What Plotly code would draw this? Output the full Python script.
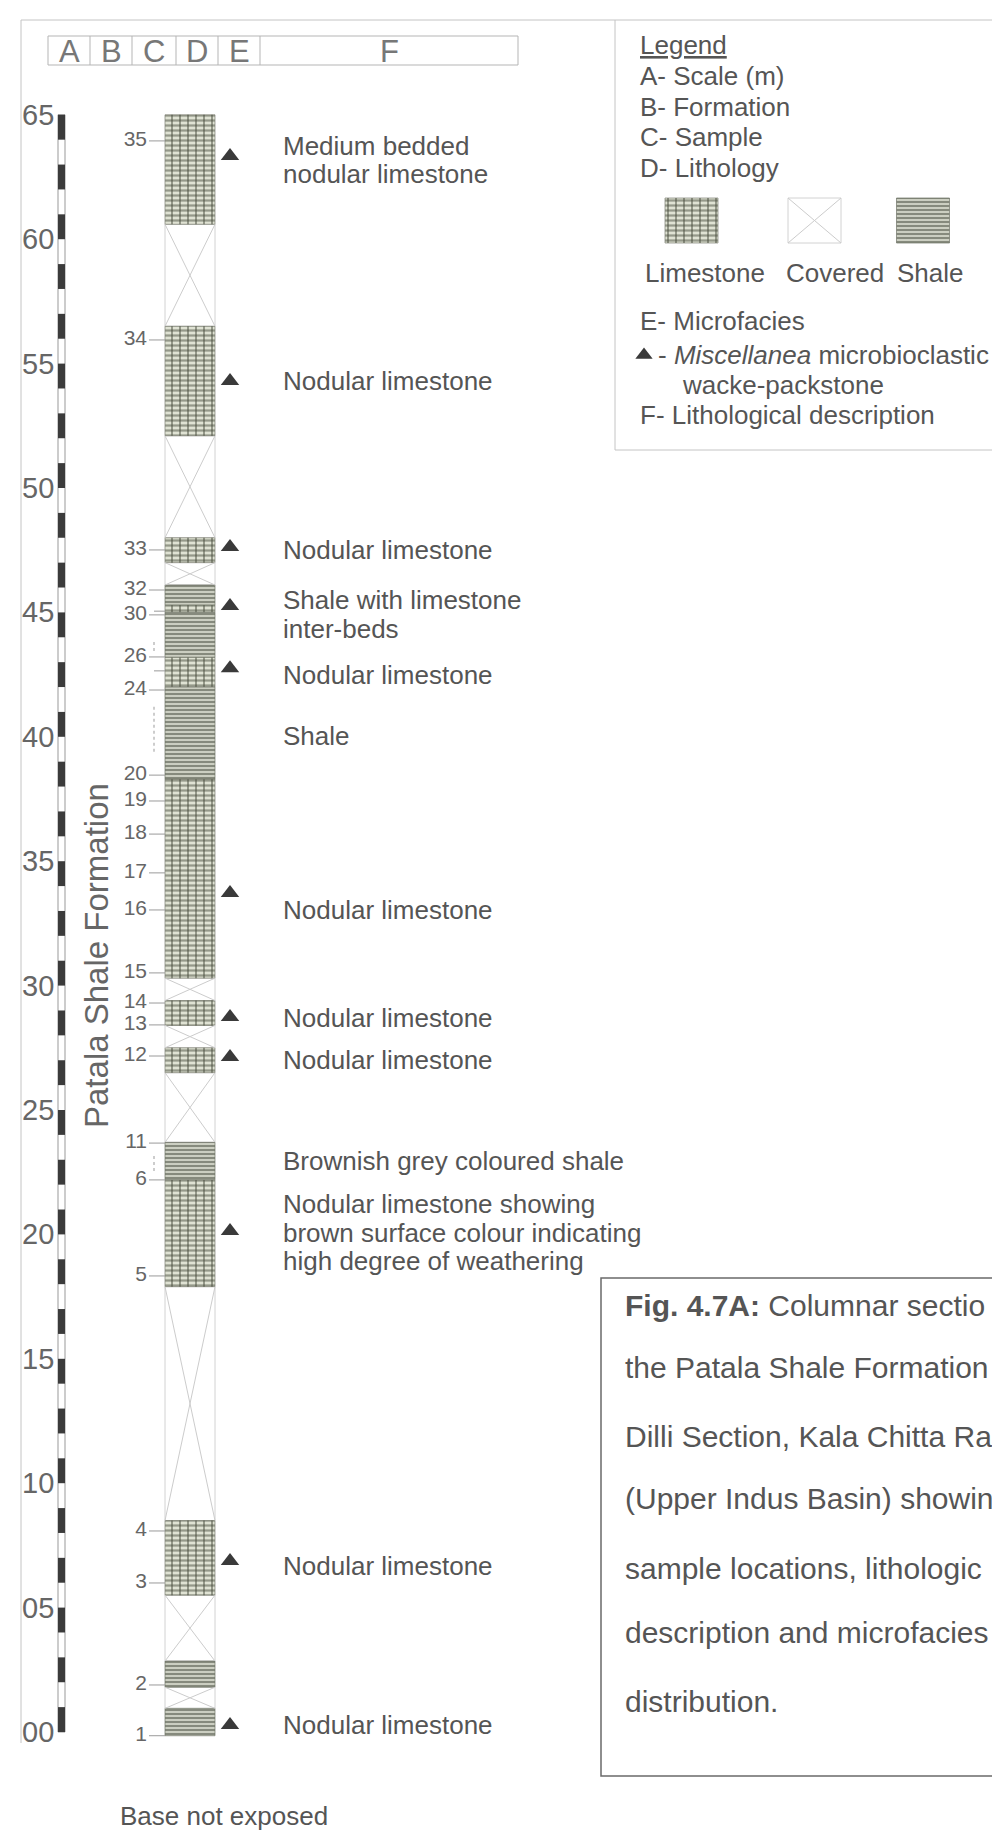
import plotly.graph_objects as go

# ---------------- data ----------------
scale_labels = ["65", "60", "55", "50", "45", "40", "35", "30", "25", "20", "15", "10", "05", "00"]
scale_values = [65, 60, 55, 50, 45, 40, 35, 30, 25, 20, 15, 10, 5, 0]

unit_top = [65.0, 60.6, 56.5, 52.1, 48.0, 47.0, 46.1, 45.3, 45.0, 43.2, 42.0, 38.3, 30.3,
            29.4, 28.4, 27.5, 26.5, 23.7, 22.2, 17.9, 8.5, 5.5, 2.85, 1.8, 0.95]
unit_bottom = [60.6, 56.5, 52.1, 48.0, 47.0, 46.1, 45.3, 45.0, 43.2, 42.0, 38.3, 30.3, 29.4,
               28.4, 27.5, 26.5, 23.7, 22.2, 17.9, 8.5, 5.5, 2.85, 1.8, 0.95, -0.15]
unit_lith = ["Limestone", "Covered", "Limestone", "Covered", "Limestone", "Covered", "Shale",
             "Limestone", "Shale", "Limestone", "Shale", "Limestone", "Covered", "Limestone",
             "Covered", "Limestone", "Covered", "Shale", "Limestone", "Covered", "Limestone",
             "Covered", "Shale", "Covered", "Shale"]

sample_labels = ["35", "34", "33", "32", "30", "26", "24", "20", "19", "18", "17", "16", "15",
                 "14", "13", "12", "11", "6", "5", "4", "3", "2", "1"]
sample_depths = [63.95, 55.95, 47.51, 45.90, 44.90, 43.21, 41.88, 38.46, 37.42, 36.09, 34.53,
                 33.04, 30.51, 29.30, 28.42, 27.17, 23.67, 22.19, 18.33, 8.08, 5.99, 1.89, -0.15]
extra_sample_ticks = [45.05, 42.65]
sample_gap_bottom = [43.45, 39.4, 22.55]
sample_gap_top = [43.9, 41.3, 23.2]

microfacies_depths = [63.34, 54.30, 47.63, 45.26, 42.76, 33.72, 28.74, 27.13, 20.14, 6.87, 0.28]

desc_texts = [
    ["Medium bedded", "nodular limestone"],
    ["Nodular limestone"],
    ["Nodular limestone"],
    ["Shale with limestone", "inter-beds"],
    ["Nodular limestone"],
    ["Shale"],
    ["Nodular limestone"],
    ["Nodular limestone"],
    ["Nodular limestone"],
    ["Brownish grey coloured shale"],
    ["Nodular limestone showing", "brown surface colour indicating", "high degree of weathering"],
    ["Nodular limestone"],
    ["Nodular limestone"],
]
desc_depths = [63.18, 54.30, 47.51, 44.92, 42.48, 40.03, 33.04, 28.70, 27.01, 22.95, 20.06, 6.67, 0.28]

header_labels = ["A", "B", "C", "D", "E", "F"]
formation_name = "Patala Shale Formation"
base_note = "Base not exposed"

legend_lines = ["A- Scale (m)", "B- Formation", "C- Sample", "D- Lithology"]
legend_lith = ["Limestone", "Covered", "Shale"]
legend_lines2 = ["E- Microfacies"]
legend_micro = ["- <i>Miscellanea</i> microbioclastic", "wacke-packstone"]
legend_lines3 = ["F- Lithological description"]

# caption as visible in the (cropped) reference
caption_lines = ["<b>Fig. 4.7A:</b> Columnar sectio", "the Patala Shale Formation",
                 "Dilli Section, Kala Chitta Ra", "(Upper Indus Basin) showin",
                 "sample locations, lithologic", "description and microfacies",
                 "distribution."]

# ---------------- layout constants ----------------
W, H = 1000, 1833
PX_PER_M = 24.88
Y_MAX = 1724 / PX_PER_M
Y_MIN = Y_MAX - H / PX_PER_M
FONT = "Liberation Sans, Arial, sans-serif"
TXT = "#555555"
D_X0, D_X1 = 157, 207
D_XC, D_W = (D_X0 + D_X1) / 2, D_X1 - D_X0
LIME_FG, LIME_BG = "#4a4e40", "#dfe2d3"
SHALE_FG, SHALE_BG = "#3a3d32", "#d3d6c8"


def m_off(px):
    return px / PX_PER_M


fig = go.Figure()

# ---------- scale bar ----------
fig.add_trace(go.Bar(x=[53.5], base=[0], y=[65], width=7, marker=dict(color="white", line=dict(color="#999", width=1)),
                     hoverinfo="skip", showlegend=False))
blk_base = [v for v in range(0, 65, 2)]
fig.add_trace(go.Bar(x=[53.5] * len(blk_base), base=blk_base, y=[1] * len(blk_base), width=7,
                     marker=dict(color="#3b3b3b", line=dict(width=0)), hoverinfo="skip", showlegend=False))


# ---------- lithology column ----------
def lith_units(name):
    b = [bb for bb, l in zip(unit_bottom, unit_lith) if l == name]
    t = [tt for tt, l in zip(unit_top, unit_lith) if l == name]
    return b, [tt - bb for bb, tt in zip(b, t)]


def limestone_bars(xs, bases, heights, width, yaxis="y"):
    fig.add_trace(go.Bar(x=xs, base=bases, y=heights, width=width, yaxis=yaxis,
                         marker=dict(color=LIME_BG, line=dict(color="#7d8072", width=0.7),
                                     pattern=dict(shape="-", fgcolor=LIME_FG, bgcolor=LIME_BG, size=5, solidity=0.45)),
                         hoverinfo="skip", showlegend=False))
    fig.add_trace(go.Bar(x=xs, base=bases, y=heights, width=width, yaxis=yaxis,
                         marker=dict(color="rgba(0,0,0,0)", line=dict(width=0),
                                     pattern=dict(shape="|", fgcolor=LIME_FG, bgcolor="rgba(0,0,0,0)",
                                                  size=8, solidity=0.25, fillmode="overlay")),
                         hoverinfo="skip", showlegend=False))


def shale_bars(xs, bases, heights, width, yaxis="y"):
    fig.add_trace(go.Bar(x=xs, base=bases, y=heights, width=width, yaxis=yaxis,
                         marker=dict(color=SHALE_BG, line=dict(color="#6f7266", width=0.7),
                                     pattern=dict(shape="-", fgcolor=SHALE_FG, bgcolor=SHALE_BG, size=4, solidity=0.55)),
                         hoverinfo="skip", showlegend=False))


cb, ch = lith_units("Covered")
fig.add_trace(go.Bar(x=[D_XC] * len(cb), base=cb, y=ch, width=D_W,
                     marker=dict(color="white", line=dict(color="#d2d2d2", width=1)),
                     hoverinfo="skip", showlegend=False))
cx, cy = [], []
for b, t, l in zip(unit_bottom, unit_top, unit_lith):
    if l == "Covered":
        cx += [D_X0, D_X1, None, D_X0, D_X1, None]
        cy += [b, t, None, t, b, None]
fig.add_trace(go.Scatter(x=cx, y=cy, mode="lines", line=dict(color="#cccccc", width=1),
                         hoverinfo="skip", showlegend=False))

lb, lh = lith_units("Limestone")
limestone_bars([D_XC] * len(lb), lb, lh, D_W)
sb, sh = lith_units("Shale")
shale_bars([D_XC] * len(sb), sb, sh, D_W)

# ---------- sample ticks ----------
tx, ty = [], []
for d in sample_depths:
    tx += [141, D_X0, None]
    ty += [d, d, None]
for d in extra_sample_ticks:
    tx += [146, D_X0, None]
    ty += [d, d, None]
fig.add_trace(go.Scatter(x=tx, y=ty, mode="lines", line=dict(color="#9a9a9a", width=1),
                         hoverinfo="skip", showlegend=False))
gx, gy = [], []
for b, t in zip(sample_gap_bottom, sample_gap_top):
    gx += [146, 146, None]
    gy += [b, t, None]
fig.add_trace(go.Scatter(x=gx, y=gy, mode="lines", line=dict(color="#bdbdbd", width=1.5, dash="dot"),
                         hoverinfo="skip", showlegend=False))
fig.add_trace(go.Scatter(x=[139] * len(sample_depths), y=sample_depths, mode="text", text=sample_labels,
                         textposition="middle left", textfont=dict(family=FONT, size=21, color="#666"),
                         hoverinfo="skip", showlegend=False))

# ---------- microfacies ----------
fig.add_trace(go.Scatter(x=[222] * len(microfacies_depths), y=microfacies_depths, mode="markers",
                         marker=dict(symbol="triangle-up", size=16, color="#3a3a3a"),
                         hoverinfo="skip", showlegend=False))

# ---------- descriptions ----------
LINE_M = m_off(28.5)
for lines, d in zip(desc_texts, desc_depths):
    n = len(lines)
    for i, ln in enumerate(lines):
        fig.add_annotation(x=273, y=d + (n - 1) / 2 * LINE_M - i * LINE_M, text=ln, showarrow=False,
                           xanchor="left", yanchor="middle", font=dict(family=FONT, size=26, color=TXT))
fig.add_annotation(x=110, y=-3.36, text=base_note, showarrow=False, xanchor="left", yanchor="middle",
                   font=dict(family=FONT, size=26, color=TXT))

# ---------- scale labels ----------
for lab, v in zip(scale_labels, scale_values):
    fig.add_annotation(x=48, y=v, text=lab, showarrow=False, xanchor="right", yanchor="middle",
                       font=dict(family=FONT, size=29, color="#666"))

# ---------- formation label ----------
fig.add_annotation(x=88, y=(1724 - 948) / PX_PER_M, text=formation_name, textangle=-90, showarrow=False,
                   xanchor="center", yanchor="middle", font=dict(family=FONT, size=33, color="#666"))

# ---------- header ----------
edges = [40, 82, 124, 168, 210, 252, 510]
shapes = []
shapes.append(dict(type="rect", xref="x", yref="y2", x0=40, x1=510, y0=28, y1=57, line=dict(color="#b5b5b5", width=1)))
for e in edges[1:-1]:
    shapes.append(dict(type="line", xref="x", yref="y2", x0=e, x1=e, y0=28, y1=57, line=dict(color="#b5b5b5", width=1)))
for lab, a, b in zip(header_labels, edges[:-1], edges[1:]):
    fig.add_annotation(x=(a + b) / 2, y=43, yref="y2", text=lab, showarrow=False, xanchor="center", yanchor="middle",
                       font=dict(family=FONT, size=31, color="#777"))

# ---------- frame ----------
shapes.append(dict(type="line", xref="x", yref="y2", x0=13, x1=1000, y0=12, y1=12, line=dict(color="#c4c4c4", width=1)))
shapes.append(dict(type="line", xref="x", yref="y2", x0=13, x1=13, y0=12, y1=1735, line=dict(color="#c4c4c4", width=1)))

# ---------- legend box ----------
shapes.append(dict(type="line", xref="x", yref="y2", x0=607, x1=607, y0=12, y1=442, line=dict(color="#c4c4c4", width=1)))
shapes.append(dict(type="line", xref="x", yref="y2", x0=607, x1=1000, y0=442, y1=442, line=dict(color="#c4c4c4", width=1)))
fig.add_annotation(x=630, y=37, yref="y2", text="<u>Legend</u>", showarrow=False, xanchor="left", yanchor="middle",
                   font=dict(family=FONT, size=26, color=TXT))
for i, ln in enumerate(legend_lines):
    fig.add_annotation(x=630, y=68 + i * 30.5, yref="y2", text=ln, showarrow=False, xanchor="left", yanchor="middle",
                       font=dict(family=FONT, size=26, color=TXT))
sw_x = [683.5, 806.5, 915]
sw_w = 53
limestone_bars([sw_x[0]], [190], [45], sw_w, yaxis="y2")
fig.add_trace(go.Bar(x=[sw_x[1]], base=[190], y=[45], width=sw_w, yaxis="y2",
                     marker=dict(color="white", line=dict(color="#d2d2d2", width=1)),
                     hoverinfo="skip", showlegend=False))
fig.add_trace(go.Scatter(x=[sw_x[1] - sw_w / 2, sw_x[1] + sw_w / 2, None, sw_x[1] - sw_w / 2, sw_x[1] + sw_w / 2],
                         y=[190, 235, None, 235, 190], yaxis="y2", mode="lines",
                         line=dict(color="#cccccc", width=1), hoverinfo="skip", showlegend=False))
shale_bars([sw_x[2]], [190], [45], sw_w, yaxis="y2")
for lab, x in zip(legend_lith, [697, 827, 922]):
    fig.add_annotation(x=x, y=265, yref="y2", text=lab, showarrow=False, xanchor="center", yanchor="middle",
                       font=dict(family=FONT, size=26, color=TXT))
fig.add_annotation(x=630, y=313, yref="y2", text=legend_lines2[0], showarrow=False, xanchor="left", yanchor="middle",
                   font=dict(family=FONT, size=26, color=TXT))
fig.add_trace(go.Scatter(x=[636], y=[347], yaxis="y2", mode="markers",
                         marker=dict(symbol="triangle-up", size=15, color="#3a3a3a"),
                         hoverinfo="skip", showlegend=False))
fig.add_annotation(x=648, y=347, yref="y2", text=legend_micro[0], showarrow=False, xanchor="left", yanchor="middle",
                   font=dict(family=FONT, size=26, color=TXT))
fig.add_annotation(x=672, y=377, yref="y2", text=legend_micro[1], showarrow=False, xanchor="left", yanchor="middle",
                   font=dict(family=FONT, size=26, color=TXT))
fig.add_annotation(x=630, y=407, yref="y2", text=legend_lines3[0], showarrow=False, xanchor="left", yanchor="middle",
                   font=dict(family=FONT, size=26, color=TXT))

# ---------- caption box ----------
shapes.append(dict(type="rect", xref="x", yref="y2", x0=593, x1=1015, y0=1270, y1=1768, line=dict(color="#6a6a6a", width=1.5)))
cap_y = [1297, 1359, 1428, 1490, 1560, 1624, 1693]
for ln, y in zip(caption_lines, cap_y):
    fig.add_annotation(x=615, y=y, yref="y2", text=ln, showarrow=False, xanchor="left", yanchor="middle",
                       font=dict(family=FONT, size=30, color=TXT))

fig.update_layout(
    width=W, height=H, margin=dict(l=0, r=0, t=0, b=0),
    paper_bgcolor="white", plot_bgcolor="white",
    barmode="overlay", showlegend=False, shapes=shapes,
    xaxis=dict(range=[0, W], visible=False, fixedrange=True),
    yaxis=dict(range=[Y_MIN, Y_MAX], visible=False, fixedrange=True),
    yaxis2=dict(range=[H, 0], overlaying="y", visible=False, fixedrange=True),
)
fig.write_html("out.html", config={"displayModeBar": False})
